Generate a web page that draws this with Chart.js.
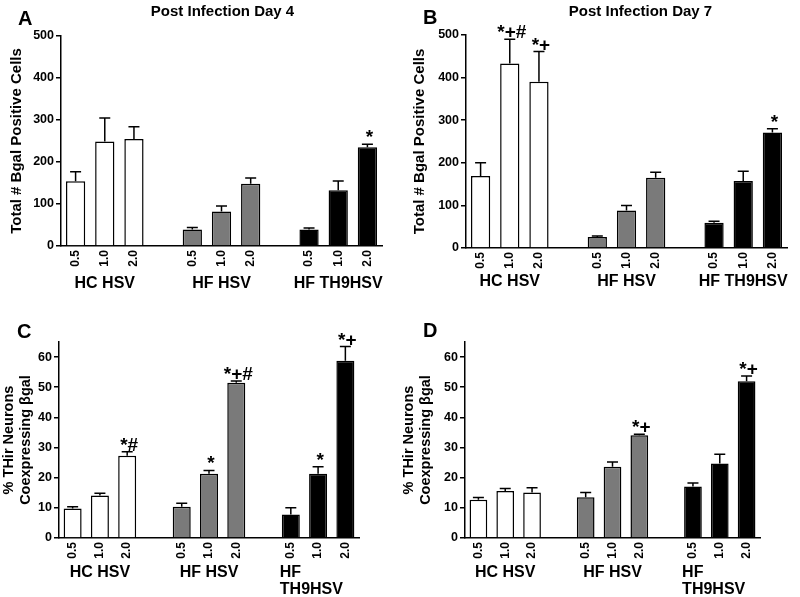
<!DOCTYPE html>
<html>
<head>
<meta charset="utf-8">
<script src="https://cdn.jsdelivr.net/npm/chart.js@4/dist/chart.umd.min.js"></script>
<style>
  body { margin: 0; background: #fff; }
  #wrap { position: relative; width: 800px; height: 597px; background: #fff; }
  #wrap canvas { position: absolute; }
</style>
</head>
<body>
<div id="wrap">
  <canvas id="cA" width="400" height="300" style="left:0;top:0"></canvas>
  <canvas id="cB" width="400" height="300" style="left:400px;top:0"></canvas>
  <canvas id="cC" width="400" height="297" style="left:0;top:300px"></canvas>
  <canvas id="cD" width="400" height="297" style="left:400px;top:300px"></canvas>
</div>
<script>
const doses = ['0.5', '1.0', '2.0'];
const groupNames = ['HC HSV', 'HF HSV', 'HF TH9HSV'];
const groupNamesWrapped = [['HC HSV'], ['HF HSV'], ['HF', 'TH9HSV']];
const groupColors = ['#ffffff', '#7a7a7a', '#000000'];

// A: total # bgal positive cells, day 4
const day4Cells = [154, 249, 255, 39, 82, 148, 39, 133, 235];
const day4Sem = [23, 56, 29, 5, 13, 14, 4, 22, 7];
const day4Sig = ['', '', '', '', '', '', '', '', '*'];

// B: day 7
const day7Cells = [169, 433, 390, 26, 88, 165, 59, 157, 271];
const day7Sem = [31, 57, 71, 2, 12, 13, 4, 23, 9];
const day7Sig = ['', '*+#', '*+', '', '', '', '', '', '*'];

// C: % THir neurons coexpressing bgal
const pctC = [9.8, 14.1, 27.3, 10.4, 21.3, 51.5, 7.8, 21.3, 58.8];
const pctCSem = [0.6, 0.7, 1.3, 1.1, 1.1, 0.6, 2.2, 2.3, 4.7];
const pctCSig = ['', '', '*#', '', '*', '*+#', '', '*', '*+'];

// D
const pctD = [12.7, 15.6, 15.1, 13.5, 23.6, 34.1, 17.1, 24.7, 52.0];
const pctDSem = [0.7, 0.8, 1.6, 1.6, 1.6, 0.3, 1.1, 3.1, 1.7];
const pctDSig = ['', '', '', '', '', '*+', '', '', '*+'];

const cellTicks = [0, 100, 200, 300, 400, 500];
const pctTicks = [0, 10, 20, 30, 40, 50, 60];

const FONT = "'Liberation Sans', Arial, Helvetica, sans-serif";

// put an empty slot between the three groups
function withGaps(arr, gap){
  const out = [];
  arr.forEach((v, i) => { if(i && i % 3 === 0) out.push(gap); out.push(v); });
  return out;
}

const xLabels = withGaps(groupNames.flatMap(() => doses), '');
const barColors = withGaps(groupNames.flatMap((g, i) => doses.map(() => groupColors[i])), 'rgba(0,0,0,0)');

const decor = {
  id: 'decor',
  afterDatasetsDraw(chart, args, o){
    const ctx = chart.ctx;
    const y = chart.scales.y;
    const bars = chart.getDatasetMeta(0).data;
    const vals = chart.data.datasets[0].data;
    const sem = withGaps(o.sem, null), sig = withGaps(o.sig, '');
    ctx.save();
    ctx.strokeStyle = '#000';
    ctx.lineWidth = 1.5;
    bars.forEach((b, i) => {
      if(vals[i] == null) return;
      const top = y.getPixelForValue(vals[i]);
      const et = y.getPixelForValue(vals[i] + sem[i]);
      ctx.beginPath();
      ctx.moveTo(b.x, top);
      ctx.lineTo(b.x, et);
      ctx.moveTo(b.x - 5.5, et);
      ctx.lineTo(b.x + 5.5, et);
      ctx.stroke();
      if(sig[i]){
        ctx.fillStyle = '#000';
        ctx.font = 'bold 19px ' + FONT;
        ctx.textAlign = 'center';
        ctx.textBaseline = 'alphabetic';
        ctx.fillText(sig[i], b.x + 2, et - 1);
      }
    });
    ctx.restore();
  },
  afterDraw(chart, args, o){
    const ctx = chart.ctx;
    const area = chart.chartArea;
    const bars = chart.getDatasetMeta(0).data;
    ctx.save();
    ctx.fillStyle = '#000';
    ctx.textBaseline = 'alphabetic';
    ctx.textAlign = 'left';
    ctx.font = 'bold 20px ' + FONT;
    ctx.fillText(o.letter, o.letterPos[0], o.letterPos[1]);
    if(o.title){
      ctx.font = 'bold 15px ' + FONT;
      ctx.textAlign = 'center';
      ctx.textBaseline = 'middle';
      ctx.fillText(o.title, (area.left + area.right) / 2 + o.titleShift, 12);
    }
    ctx.font = 'bold 16px ' + FONT;
    ctx.textBaseline = 'middle';
    o.groups.forEach((g, gi) => {
      const lines = Array.isArray(g) ? g : [g];
      const mid = bars[gi * 4 + 1];
      const first = bars[gi * 4];
      lines.forEach((ln, li) => {
        const yy = area.bottom + o.groupOffset + li * 17;
        if(lines.length > 1){
          ctx.textAlign = 'left';
          ctx.fillText(ln, first.x - first.width / 2 - 2, yy);
        } else {
          ctx.textAlign = 'center';
          ctx.fillText(ln, mid.x, yy);
        }
      });
    });
    ctx.restore();
  }
};

function makePanel(id, cfg){
  return new Chart(document.getElementById(id), {
    type: 'bar',
    data: {
      labels: xLabels,
      datasets: [{
        data: withGaps(cfg.values, null),
        backgroundColor: barColors,
        borderColor: '#000',
        borderWidth: 1.5,
        barPercentage: 0.66,
        categoryPercentage: 1
      }]
    },
    options: {
      responsive: false,
      animation: false,
      events: [],
      layout: { padding: { top: cfg.area.top, right: cfg.w - cfg.area.right, bottom: 0, left: 0 } },
      scales: {
        x: {
          grid: { display: false, drawTicks: false },
          border: { display: true, color: '#000', width: 1.5 },
          ticks: {
            autoSkip: false, minRotation: 90, maxRotation: 90, padding: 4,
            color: '#000', font: { family: FONT, size: 12, weight: 'bold' }
          },
          afterFit(s){ s.height = cfg.h - cfg.area.bottom; }
        },
        y: {
          min: 0, max: cfg.max,
          grid: { display: true, drawOnChartArea: false, drawTicks: true, tickLength: 5, color: '#000', lineWidth: 1.5 },
          border: { display: true, color: '#000', width: 1.5 },
          ticks: { color: '#000', padding: 2, font: { family: FONT, size: 12.5, weight: 'bold' } },
          afterBuildTicks(s){ s.ticks = cfg.ticks.map(v => ({ value: v })); },
          afterFit(s){ s.width = cfg.area.left; },
          title: {
            display: true, text: cfg.yTitle, color: '#000',
            padding: { top: cfg.yTitlePad, bottom: 0 },
            font: { family: FONT, size: cfg.yTitleSize, weight: 'bold', lineHeight: 1.2 }
          }
        }
      },
      plugins: {
        legend: { display: false },
        tooltip: { enabled: false },
        decor: {
          letter: cfg.letter, letterPos: cfg.letterPos,
          title: cfg.title, titleShift: cfg.titleShift || 0,
          sem: cfg.sem, sig: cfg.sig,
          groups: cfg.groups, groupOffset: cfg.groupOffset
        }
      }
    },
    plugins: [decor]
  });
}

makePanel('cA', {
  w: 400, h: 300, area: { left: 61, right: 382, top: 36, bottom: 246 },
  values: day4Cells, sem: day4Sem, sig: day4Sig, max: 500, ticks: cellTicks,
  yTitle: 'Total # Bgal Positive Cells', yTitlePad: 8, yTitleSize: 15,
  letter: 'A', letterPos: [18, 25], title: 'Post Infection Day 4', titleShift: 1,
  groups: groupNames, groupOffset: 38
});
makePanel('cB', {
  w: 400, h: 300, area: { left: 66, right: 387, top: 35, bottom: 248 },
  values: day7Cells, sem: day7Sem, sig: day7Sig, max: 500, ticks: cellTicks,
  yTitle: 'Total # Bgal Positive Cells', yTitlePad: 11, yTitleSize: 15,
  letter: 'B', letterPos: [23, 24], title: 'Post Infection Day 7', titleShift: 14,
  groups: groupNames, groupOffset: 34
});
makePanel('cC', {
  w: 400, h: 297, area: { left: 59, right: 359, top: 42, bottom: 238 },
  values: pctC, sem: pctCSem, sig: pctCSig, max: 65, ticks: pctTicks,
  yTitle: ['% THir Neurons', 'Coexpressing βgal'], yTitlePad: 0, yTitleSize: 14.5,
  letter: 'C', letterPos: [17, 38],
  groups: groupNamesWrapped, groupOffset: 35
});
makePanel('cD', {
  w: 400, h: 297, area: { left: 65, right: 360, top: 42, bottom: 238 },
  values: pctD, sem: pctDSem, sig: pctDSig, max: 65, ticks: pctTicks,
  yTitle: ['% THir Neurons', 'Coexpressing βgal'], yTitlePad: 0, yTitleSize: 14.5,
  letter: 'D', letterPos: [23, 37],
  groups: groupNamesWrapped, groupOffset: 35
});
</script>
</body>
</html>
